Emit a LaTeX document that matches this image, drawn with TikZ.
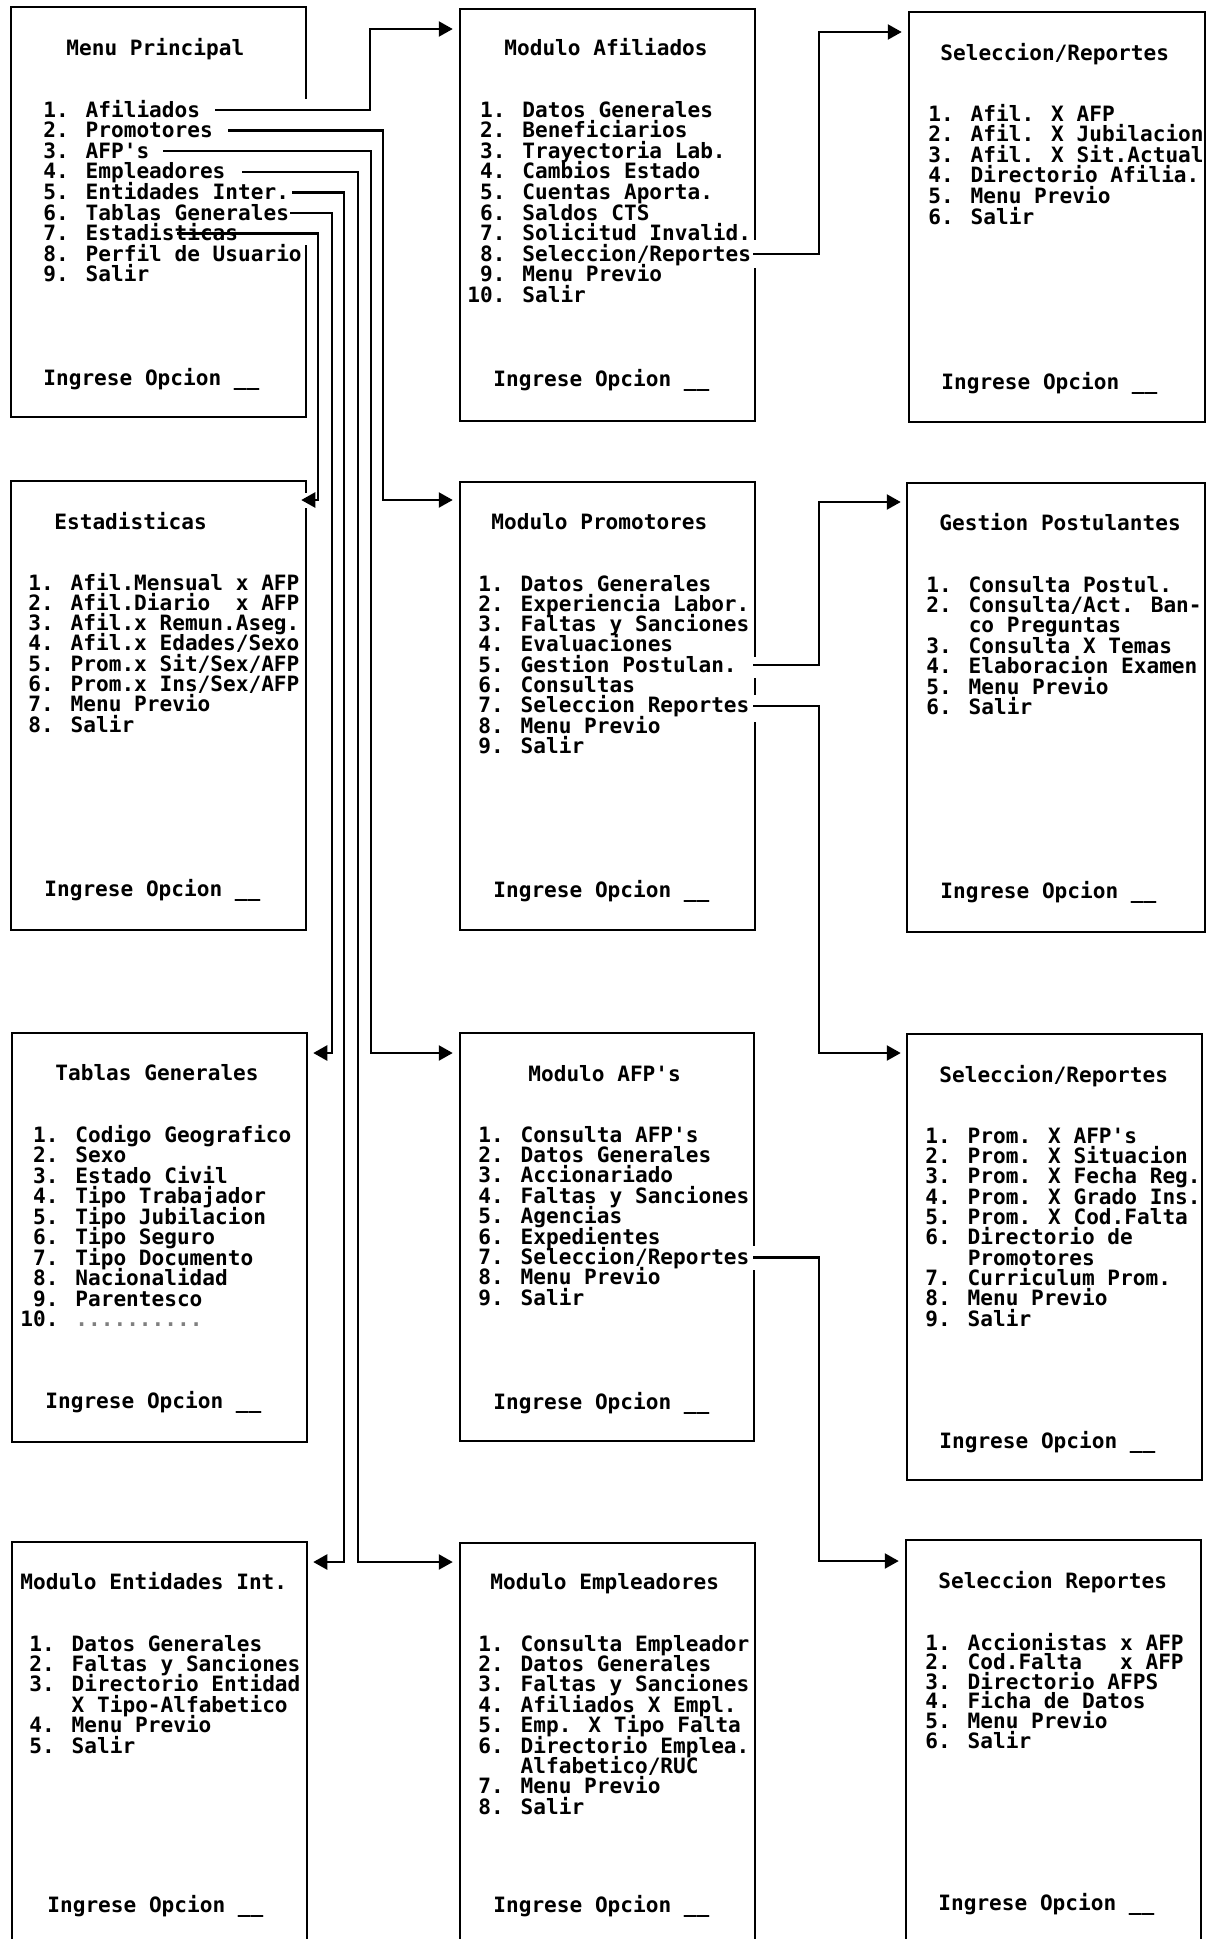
\documentclass[tikz,border=0pt]{standalone}
\usepackage{fontspec}
\newfontfamily\scrmono{DejaVu Sans Mono}
\usetikzlibrary{arrows.meta,fit}
\newcommand\menufont{\scrmono\bfseries\fontsize{10.55pt}{12pt}\selectfont}
\tikzset{
  box/.style={draw, line width=1.25pt, inner sep=0pt},
  txt/.style={font=\menufont, inner sep=0pt, anchor=base west, text height=8pt, text depth=1pt},
  conn/.style={draw, line width=1.2pt, -{Triangle[length=7pt,width=7.5pt]}},
  gap/.style={fill=white, draw=none},
}
% #1 name prefix, #2 x, #3 first line centre y, #4 line step, #5 list of lines
\newcommand\menulines[5]{\foreach \itemtext [count=\k] in {#5}{\node[txt] (#1\k) at (#2,{#3+7+(\k-1)*#4}) {\itemtext};}}
\newcommand\q{\textquotesingle}
\begin{document}
\begin{tikzpicture}[x=0.5pt,y=-0.5pt]
\useasboundingbox (0,0) rectangle (1210,1939);
\clip (0,0) rectangle (1210,1939);
\fill[white] (0,0) rectangle (1210,1939);

% ---------- frames ----------
\node[box, fit={(11,7) (306,417)}] (MP) {};
\node[box, fit={(460,9) (755,421)}] (MA) {};
\node[box, fit={(909,12) (1205,422)}] (SR1) {};
\node[box, fit={(11,481) (306,930)}] (ES) {};
\node[box, fit={(460,482) (755,930)}] (MPR) {};
\node[box, fit={(907,483) (1205,932)}] (GP) {};
\node[box, fit={(12,1033) (307,1442)}] (TG) {};
\node[box, fit={(460,1033) (754,1441)}] (MAFP) {};
\node[box, fit={(907,1034) (1202,1480)}] (SR2) {};
\node[box, fit={(12,1542) (307,1995)}] (ME) {};
\node[box, fit={(460,1543) (755,1995)}] (MEM) {};
\node[box, fit={(906,1540) (1201,1995)}] (SR3) {};

% gaps in the right borders
\path[gap] (300,99) rectangle (312,245);
\path[gap] (749,240) rectangle (761,268);
\path[gap] (749,657) rectangle (761,678);
\path[gap] (749,695) rectangle (761,722);
\path[gap] (748,1246) rectangle (760,1270);
\path[gap] (300,493) rectangle (312,508);

% ---------- Menu Principal ----------
\node[txt] (mpT) at (66,55) {Menu Principal};
\menulines{mp}{43}{110}{20.6}{1. Afiliados, 2. Promotores, 3. AFP\q s, 4. Empleadores, 5. Entidades Inter., 6. Tablas Generales, 7. Estadisticas, 8. Perfil de Usuario, 9. Salir}
\node[txt] (mpI) at (43,385) {Ingrese Opcion \_\_};

% ---------- Modulo Afiliados ----------
\node[txt] (maT) at (504,55) {Modulo Afiliados};
\menulines{ma}{467}{110}{20.6}{\hphantom{0}1. Datos Generales, \hphantom{0}2. Beneficiarios, \hphantom{0}3. Trayectoria Lab., \hphantom{0}4. Cambios Estado, \hphantom{0}5. Cuentas Aporta., \hphantom{0}6. Saldos CTS, \hphantom{0}7. Solicitud Invalid., \hphantom{0}8. Seleccion/Reportes, \hphantom{0}9. Menu Previo, 10. Salir}
\node[txt] (maI) at (493,386) {Ingrese Opcion \_\_};

% ---------- Seleccion/Reportes (afiliados) ----------
\node[txt] (saT) at (940,60) {Seleccion/Reportes};
\menulines{sa}{928}{114}{20.6}{1. Afil. X AFP, 2. Afil. X Jubilacion, 3. Afil. X Sit.Actual, 4. Directorio Afilia., 5. Menu Previo, 6. Salir}
\node[txt] (saI) at (941,389) {Ingrese Opcion \_\_};

% ---------- Estadisticas ----------
\node[txt] (esT) at (54,529) {Estadisticas};
\menulines{es}{28}{583}{20.3}{1. Afil.Mensual x AFP, 2. Afil.Diario~~x AFP, 3. Afil.x Remun.Aseg., 4. Afil.x Edades/Sexo, 5. Prom.x Sit/Sex/AFP, 6. Prom.x Ins/Sex/AFP, 7. Menu Previo, 8. Salir}
\node[txt] (esI) at (44,896) {Ingrese Opcion \_\_};

% ---------- Modulo Promotores ----------
\node[txt] (mprT) at (491,529) {Modulo Promotores};
\menulines{mpr}{478}{584}{20.3}{1. Datos Generales, 2. Experiencia Labor., 3. Faltas y Sanciones, 4. Evaluaciones, 5. Gestion Postulan., 6. Consultas, 7. Seleccion Reportes, 8. Menu Previo, 9. Salir}
\node[txt] (mprI) at (493,897) {Ingrese Opcion \_\_};

% ---------- Gestion Postulantes ----------
\node[txt] (gpT) at (939,530) {Gestion Postulantes};
\menulines{gp}{926}{585}{20.4}{1. Consulta Postul., 2. Consulta/Act. Ban-, \hphantom{2. }co Preguntas, 3. Consulta X Temas, 4. Elaboracion Examen, 5. Menu Previo, 6. Salir}
\node[txt] (gpI) at (940,898) {Ingrese Opcion \_\_};

% ---------- Tablas Generales ----------
\node[txt] (tgT) at (55,1080) {Tablas Generales};
\menulines{tg}{20}{1135}{20.5}{\hphantom{0}1. Codigo Geografico, \hphantom{0}2. Sexo, \hphantom{0}3. Estado Civil, \hphantom{0}4. Tipo Trabajador, \hphantom{0}5. Tipo Jubilacion, \hphantom{0}6. Tipo Seguro, \hphantom{0}7. Tipo Documento, \hphantom{0}8. Nacionalidad, \hphantom{0}9. Parentesco, 10. \textcolor{gray}{..........}}
\node[txt] (tgI) at (45,1408) {Ingrese Opcion \_\_};

% ---------- Modulo AFP's ----------
\node[txt] (mafT) at (528,1081) {Modulo AFP\q s};
\menulines{maf}{478}{1135}{20.4}{1. Consulta AFP\q s, 2. Datos Generales, 3. Accionariado, 4. Faltas y Sanciones, 5. Agencias, 6. Expedientes, 7. Seleccion/Reportes, 8. Menu Previo, 9. Salir}
\node[txt] (mafI) at (493,1409) {Ingrese Opcion \_\_};

% ---------- Seleccion/Reportes (promotores) ----------
\node[txt] (sbT) at (939,1082) {Seleccion/Reportes};
\menulines{sb}{925}{1136}{20.35}{1. Prom. X AFP\q s, 2. Prom. X Situacion, 3. Prom. X Fecha Reg., 4. Prom. X Grado Ins., 5. Prom. X Cod.Falta, 6. Directorio de, \hphantom{6. }Promotores, 7. Curriculum Prom., 8. Menu Previo, 9. Salir}
\node[txt] (sbI) at (939,1448) {Ingrese Opcion \_\_};

% ---------- Modulo Entidades Int. ----------
\node[txt] (meT) at (20,1589) {Modulo Entidades Int.};
\menulines{me}{29}{1644}{20.4}{1. Datos Generales, 2. Faltas y Sanciones, 3. Directorio Entidad, \hphantom{3. }X Tipo-Alfabetico, 4. Menu Previo, 5. Salir}
\node[txt] (meI) at (47,1912) {Ingrese Opcion \_\_};

% ---------- Modulo Empleadores ----------
\node[txt] (memT) at (490,1589) {Modulo Empleadores};
\menulines{mem}{478}{1644}{20.4}{1. Consulta Empleador, 2. Datos Generales, 3. Faltas y Sanciones, 4. Afiliados X Empl., 5. Emp. X Tipo Falta, 6. Directorio Emplea., \hphantom{6. }Alfabetico/RUC, 7. Menu Previo, 8. Salir}
\node[txt] (memI) at (493,1912) {Ingrese Opcion \_\_};

% ---------- Seleccion Reportes (AFP) ----------
\node[txt] (scT) at (938,1588) {Seleccion Reportes};
\menulines{sc}{925}{1643}{19.6}{1. Accionistas x AFP, 2. Cod.Falta~~~x AFP, 3. Directorio AFPS, 4. Ficha de Datos, 5. Menu Previo, 6. Salir}
\node[txt] (scI) at (938,1910) {Ingrese Opcion \_\_};

% ---------- connectors from Menu Principal ----------
\coordinate (k1) at (370,29);
\coordinate (k2) at (383,500);
\coordinate (k3) at (371,1053);
\coordinate (k4) at (358,1562);
\coordinate (k5) at (344,1562);
\coordinate (k6) at (332,1053);
\coordinate (k7) at (318,500);
\draw[conn, shorten >=3pt] ([xshift=7.3pt]mp1.east) -| (k1) -- (k1 -| MA.west);
\draw[conn, shorten >=3pt] ([xshift=7.45pt]mp2.east) -| (k2) -- (k2 -| MPR.west);
\draw[conn, shorten >=3pt] ([xshift=6.7pt]mp3.east) -| (k3) -- (k3 -| MAFP.west);
\draw[conn, shorten >=3pt] ([xshift=8.1pt]mp4.east) -| (k4) -- (k4 -| MEM.west);
\draw[conn, shorten >=2.5pt] ([xshift=1.35pt]mp5.east) -| (k5) -- (k5 -| ME.east);
\draw[conn, shorten >=2.5pt] ([xshift=0.35pt]mp6.east) -| (k6) -- (k6 -| TG.east);
\draw[conn, shorten >=-3pt] ([xshift=-30.75pt]mp7.east) -| (k7) -- (k7 -| ES.east);

% ---------- connectors from the modules ----------
\coordinate (k8) at (819,32);
\coordinate (k9) at (819,502);
\coordinate (k10) at (819,1053);
\coordinate (k11) at (819,1561);
\draw[conn, shorten >=3pt] ([xshift=0.8pt]ma8.east) -| (k8) -- (k8 -| SR1.west);
\draw[conn, shorten >=2.5pt] ([xshift=8pt]mpr5.east) -| (k9) -- (k9 -| GP.west);
\draw[conn, shorten >=2.5pt] ([xshift=1.65pt]mpr7.east) -| (k10) -- (k10 -| SR2.west);
\draw[conn, shorten >=3pt] ([xshift=1.65pt]maf7.east) -| (k11) -- (k11 -| SR3.west);
\end{tikzpicture}
\end{document}
